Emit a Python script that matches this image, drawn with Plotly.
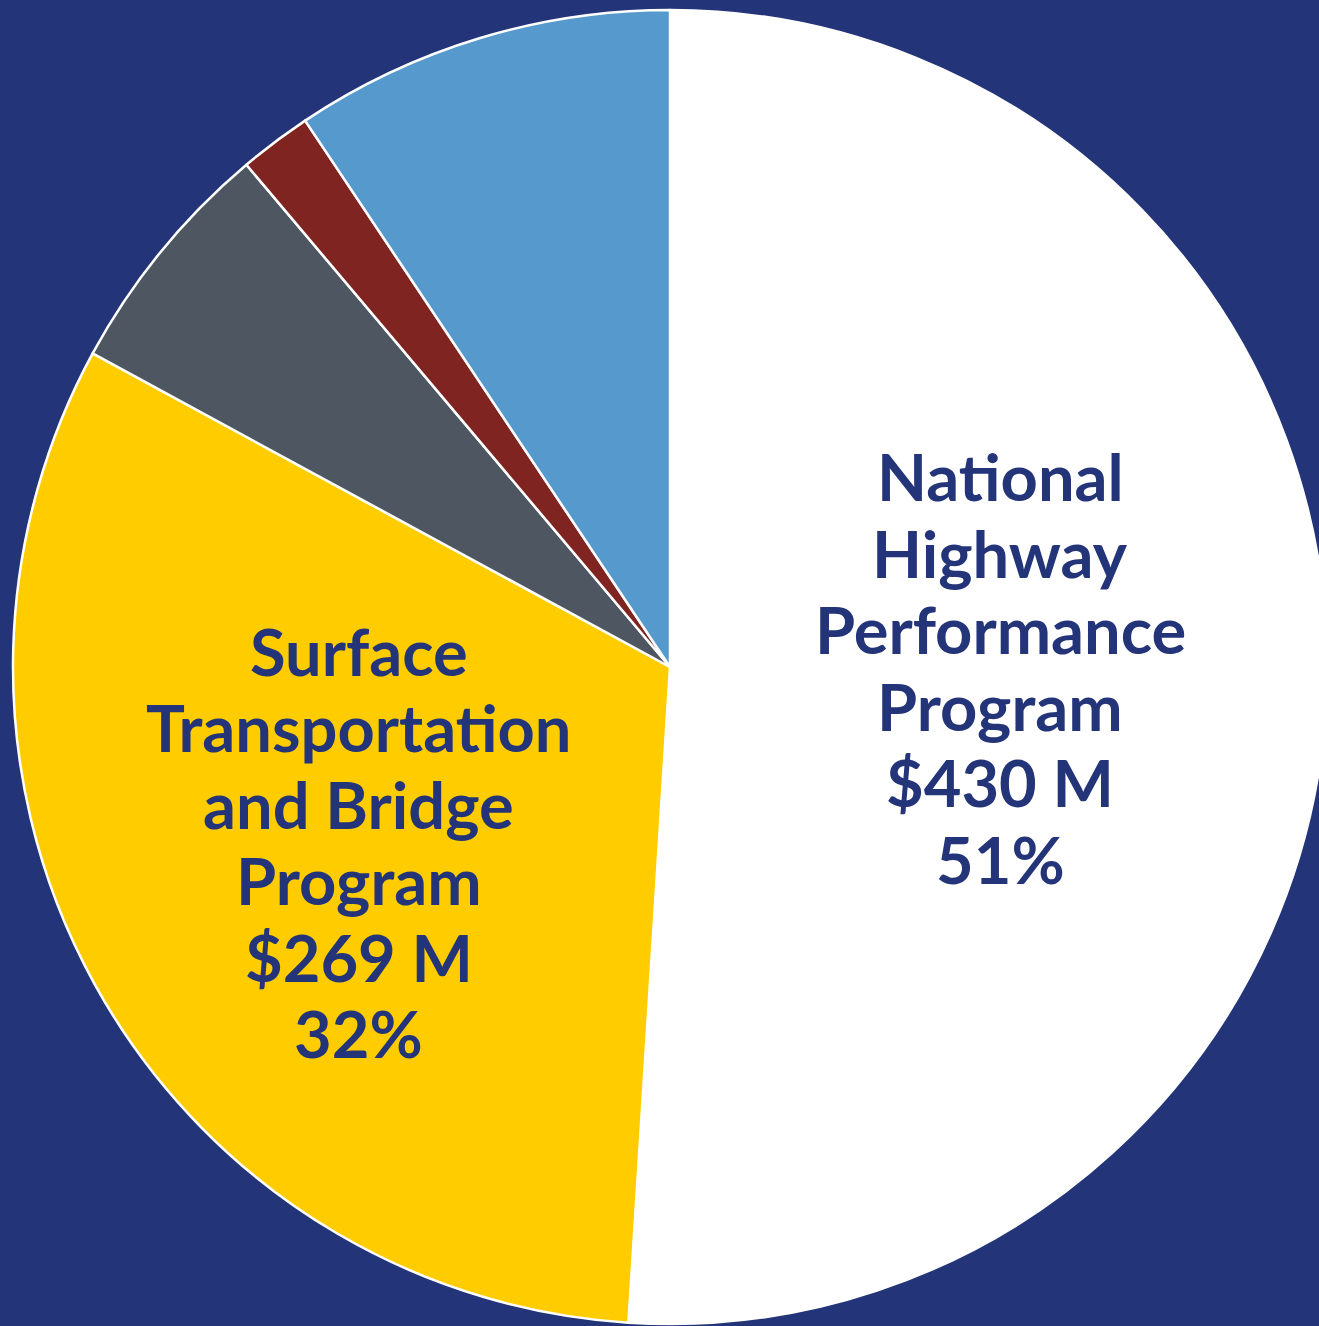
import math
import plotly.graph_objects as go

# ---- data ----
categories = [
    "National Highway Performance Program",
    "Surface Transportation and Bridge Program",
    "Congestion Mitigation and Air Quality Program",
    "Railway-Highway Crossings Program",
    "Highway Safety Improvement Program",
]
label_lines = [
    ["National", "Highway", "Performance", "Program"],
    ["Surface", "Transportation", "and Bridge", "Program"],
    None,
    None,
    None,
]
values_musd = [430, 269, 50, 15, 79]
slice_colors = ["#FFFFFF", "#FFCC00", "#4E5761", "#7F2420", "#5699CC"]

BG = "#233479"
TEXT = "#233479"
VIEW_W, H = 1319, 1326
W = 1327  # figure slightly wider than the view: the pie is cut at the right edge

# pie placement (pixels)
left_px, top_px, bottom_px = 13, 10, 2
dom_x = [left_px / W, 1.0]
dom_y = [bottom_px / H, 1.0 - top_px / H]

fig = go.Figure()
fig.add_trace(go.Pie(
    labels=categories,
    values=values_musd,
    sort=False,
    direction="clockwise",
    rotation=0,
    textinfo="none",
    hoverinfo="label+value+percent",
    marker=dict(colors=slice_colors, line=dict(color="#FFFFFF", width=2.5)),
    domain=dict(x=dom_x, y=dom_y),
    showlegend=False,
))

# label positions from slice mid-angles
total = sum(values_musd)
dw = (dom_x[1] - dom_x[0]) * W
dh = (dom_y[1] - dom_y[0]) * H
r = min(dw, dh) / 2
cx = dom_x[0] * W + dw / 2
cy = (1 - dom_y[1]) * H + dh / 2
radial_frac = [0.50, 0.55, 0, 0, 0]
nudge_px = [(2, -10), (5, 0), (0, 0), (0, 0), (0, 0)]
line_step = 76.5
font_size = 65
cum = 0
for i, v in enumerate(values_musd):
    mid = (cum + v / 2) / total * 2 * math.pi
    cum += v
    if label_lines[i] is None:
        continue
    pct = round(v / total * 100)
    lines = label_lines[i] + [f"${v} M", f"{pct}%"]
    px = cx + math.sin(mid) * r * radial_frac[i] + nudge_px[i][0]
    py = cy - math.cos(mid) * r * radial_frac[i] + nudge_px[i][1]
    n = len(lines)
    for k, ln in enumerate(lines):
        ly = py + (k - (n - 1) / 2) * line_step
        fig.add_annotation(
            x=px / W, y=1 - ly / H, xref="paper", yref="paper",
            text=f"<b>{ln}</b>", showarrow=False,
            xanchor="center", yanchor="middle", align="center",
            font=dict(family="Lato", size=font_size, color=TEXT),
        )

fig.update_layout(
    width=W, height=H,
    margin=dict(l=0, r=0, t=0, b=0),
    paper_bgcolor=BG, plot_bgcolor=BG,
)
fig.write_html(
    "out.html",
    config={"displayModeBar": False},
    post_script=(
        "document.body.style.margin='0';"
        "document.body.style.overflow='hidden';"
        f"document.body.style.background='{BG}';"
    ),
)
